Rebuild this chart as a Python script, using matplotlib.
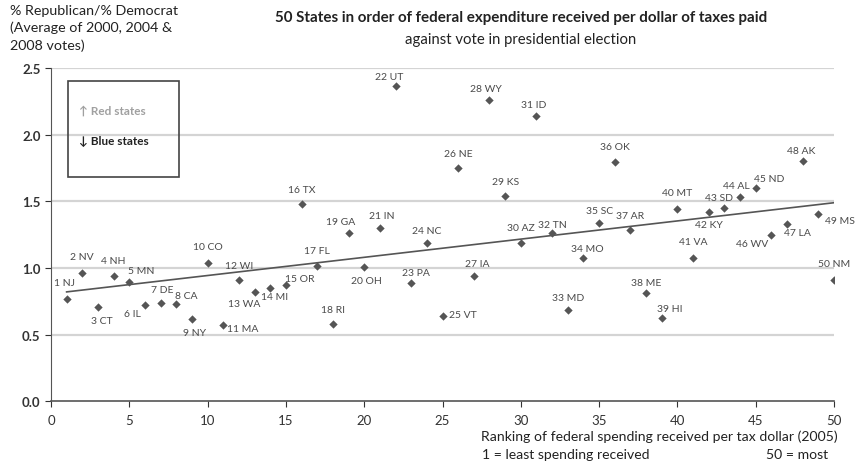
import numpy as np
import matplotlib.pyplot as plt

plt.rcParams['font.family'] = ['Lato', 'DejaVu Sans']

# rank of federal spending received per tax dollar (2005)
ranks = list(range(1, 51))
states = ['NJ', 'NV', 'CT', 'NH', 'MN', 'IL', 'DE', 'CA', 'NY', 'CO',
          'MA', 'WI', 'WA', 'MI', 'OR', 'TX', 'FL', 'RI', 'GA', 'OH',
          'IN', 'UT', 'PA', 'NC', 'VT', 'NE', 'IA', 'WY', 'KS', 'AZ',
          'ID', 'TN', 'MD', 'MO', 'SC', 'OK', 'AR', 'ME', 'HI', 'MT',
          'VA', 'KY', 'SD', 'AL', 'ND', 'WV', 'LA', 'AK', 'MS', 'NM']
# % Republican / % Democrat, average of 2000, 2004, 2008
ratio = [0.77, 0.965, 0.705, 0.94, 0.893, 0.725, 0.738, 0.733, 0.615, 1.04,
         0.573, 0.91, 0.82, 0.848, 0.873, 1.477, 1.017, 0.58, 1.262, 1.007,
         1.297, 2.362, 0.89, 1.19, 0.638, 1.747, 0.94, 2.262, 1.537, 1.187,
         2.137, 1.26, 0.685, 1.073, 1.335, 1.792, 1.285, 0.81, 0.625, 1.445,
         1.077, 1.422, 1.45, 1.535, 1.6, 1.25, 1.33, 1.8, 1.405, 0.912]

# label offsets from each marker (pixels, x right / y up)
offsets = [(-2, 16), (0, 16), (4, -13), (0, 16), (12, 12), (-12, -9), (2, 13), (10, 8), (3, -13), (0, 16),
           (19, -4), (0, 15), (-10, -11), (4, -8), (14, 6), (0, 15), (0, 15), (0, 15), (-8, 12), (2, -13),
           (2, 13), (-6, 10), (5, 10), (0, 12), (20, 2), (0, 15), (3, 13), (-4, 11), (0, 15), (0, 16),
           (-3, 12), (0, 9), (0, 13), (4, 10), (0, 13), (0, 16), (0, 15), (0, 11), (8, 10), (0, 16),
           (0, 16), (0, -13), (-5, 11), (-4, 11), (13, 10), (-19, -9), (10, -8), (-2, 11), (22, -6), (0, 16)]

dark = '#4a4a4a'

fig = plt.figure(figsize=(8.55, 4.64), dpi=100)
ax = fig.add_axes([0.0596, 0.1328, 0.9159, 0.7185])

ax.set_xlim(0, 50)
ax.set_ylim(0, 2.5)
ax.set_xticks(range(0, 51, 5))
ax.set_yticks(np.arange(0, 2.51, 0.5))
ax.set_yticklabels(['%.1f' % v for v in np.arange(0, 2.51, 0.5)], fontweight='bold')
ax.tick_params(axis='both', labelsize=9.5, colors='#333333', length=4, width=0.8)
ax.tick_params(axis='x', pad=5)
for s in ['top', 'right']:
    ax.spines[s].set_visible(False)
ax.spines['left'].set_color('#555555')
ax.spines['bottom'].set_color('#555555')
ax.spines['bottom'].set_linewidth(1.2)

for v in np.arange(0.5, 2.51, 0.5):
    ax.axhline(v, color='#d4d4d4', lw=1.6, zorder=0)

# trend line
k, b = np.polyfit(ranks, ratio, 1)
xs = np.array([1, 50])
ax.plot(xs, k * xs + b, color='#555555', lw=1.2, zorder=2)

ax.scatter(ranks, ratio, marker='D', s=18, color='#555555', zorder=3, linewidths=0)

for r, st, v, off in zip(ranks, states, ratio, offsets):
    ax.annotate('%d %s' % (r, st), (r, v), xytext=off, textcoords='offset pixels',
                ha='center', va='center', fontsize=7.5, color=dark)

# legend box
ax.add_patch(plt.Rectangle((0.022, 0.672), 0.141, 0.288, transform=ax.transAxes,
                           fill=False, edgecolor='#444444', lw=1.2, zorder=4))
ax.text(0.036, 0.875, '↑ Red states', transform=ax.transAxes, fontsize=8.5,
        fontweight='bold', color='#a0a0a0', va='center')
ax.text(0.036, 0.782, '↓ Blue states', transform=ax.transAxes, fontsize=8.5,
        fontweight='bold', color='#222222', va='center')

fig.text(0.609, 0.961, '50 States in order of federal expenditure received per dollar of taxes paid',
         ha='center', va='center', fontsize=10.9, fontweight='bold', color='#222222')
fig.text(0.609, 0.914, 'against vote in presidential election',
         ha='center', va='center', fontsize=10.7, color='#222222')
fig.text(0.0117, 0.99, '% Republican/% Democrat\n(Average of 2000, 2004 &\n2008 votes)',
         ha='left', va='top', fontsize=10.3, color='#222222', linespacing=1.5)

fig.text(0.980, 0.058, 'Ranking of federal spending received per tax dollar (2005)',
         ha='right', va='center', fontsize=10.1, color='#222222')
fig.text(0.5637, 0.02, '1 = least spending received', ha='left', va='center',
         fontsize=10.1, color='#222222')
fig.text(0.9684, 0.02, '50 = most', ha='right', va='center', fontsize=10.1, color='#222222')

fig.savefig('out.png', dpi=100)
